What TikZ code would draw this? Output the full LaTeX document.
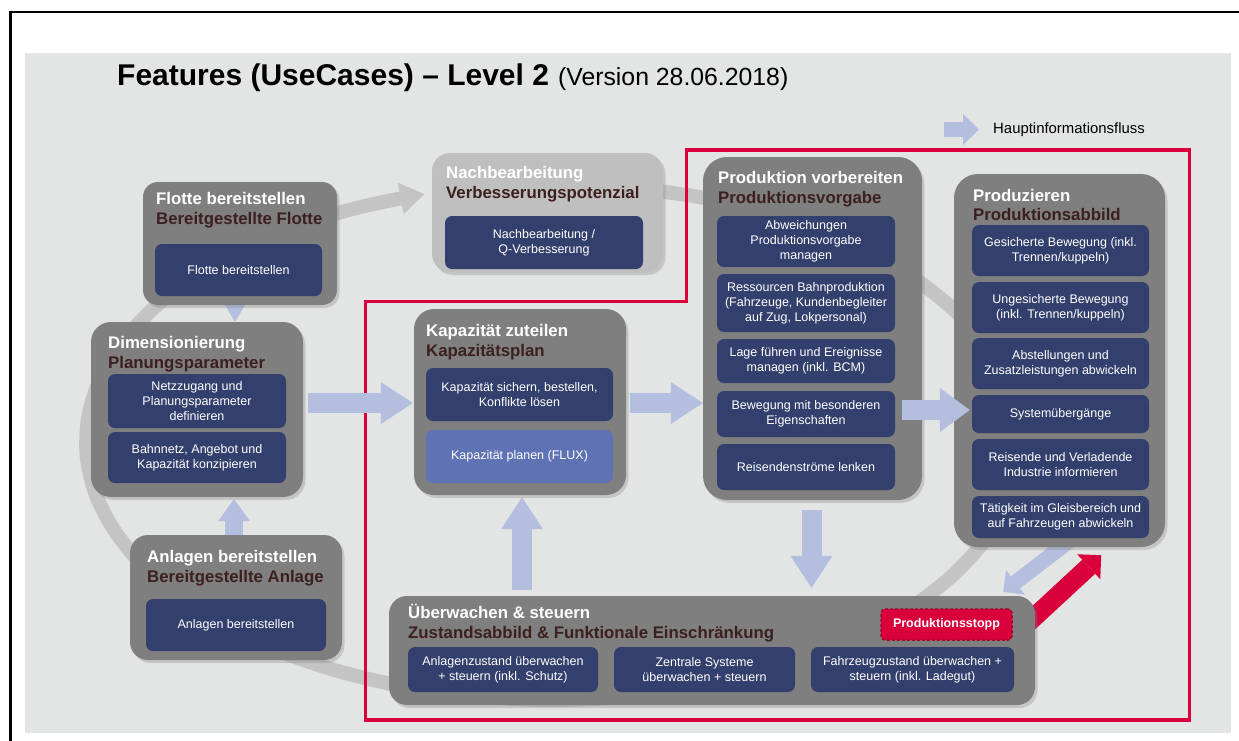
\documentclass[tikz,border=0pt]{standalone}
\usepackage{fontspec}
\setmainfont{Liberation Sans}
\usetikzlibrary{arrows.meta,shadows,calc}

\definecolor{bggray}{HTML}{E3E4E4}
\definecolor{boxgray}{HTML}{7F7F7F}
\definecolor{lightbox}{HTML}{BFBFBF}
\definecolor{navy}{HTML}{333F6C}
\definecolor{fluxblue}{HTML}{5E72B4}
\definecolor{subbrown}{HTML}{3C1F1F}
\definecolor{flowblue}{HTML}{B4BFE0}
\definecolor{dbred}{HTML}{D9003B}
\definecolor{stopborder}{HTML}{A3002C}
\definecolor{ringgray}{HTML}{C4C4C4}

\pgfdeclarelayer{bg}
\pgfdeclarelayer{behind}
\pgfdeclarelayer{front}
\pgfsetlayers{bg,behind,main,front}

\begin{document}
\begin{tikzpicture}[x=1pt,y=-1pt,
  outerbox/.style={fill=boxgray, draw=none, rounded corners=#1, inner sep=0pt,
    drop shadow={shadow xshift=2.5pt, shadow yshift=-3pt, opacity=0.3}},
  outerbox/.default=18pt,
  inbox/.style={fill=navy, rounded corners=7pt, text=white, align=center,
    inner sep=2pt, font=\fontsize{12.5}{15}\selectfont},
  head/.style={anchor=base west, inner sep=0pt, text=white,
    font=\fontsize{16.8}{20}\selectfont\bfseries},
  subhead/.style={head, text=subbrown},
  flow/.style={flowblue, line width=20pt,
    -{Triangle[width=42pt,length=32pt,line width=0pt]}},
]
\useasboundingbox (0,0) rectangle (1239,740);

% ---------- boxes ----------
\node[outerbox=15pt, minimum width=194, minimum height=123] (flotte) at (240,243.5) {};
\node[outerbox=20pt, minimum width=212, minimum height=175] (dim) at (197,409.5) {};
\node[outerbox=18pt, minimum width=212, minimum height=125] (anl) at (236,597.5) {};
\node[outerbox=18pt, fill=lightbox, minimum width=231, minimum height=119] (nach) at (547.5,212.5) {};
\node[outerbox=20pt, minimum width=212, minimum height=186] (kap) at (520,402) {};
\node[outerbox=24pt, minimum width=219, minimum height=343] (prodv) at (812.5,328.5) {};
\node[outerbox=24pt, minimum width=211, minimum height=373] (prodz) at (1059.5,360.5) {};
\node[outerbox=18pt, minimum width=646, minimum height=109] (ueber) at (712,650.5) {};

% ---------- headings ----------
\node[head] (flotteH) at (156,204) {Flotte bereitstellen};
\node[subhead] (flotteS) at (156,224) {Bereitgestellte Flotte};
\node[head] (dimH) at (108,348) {Dimensionierung};
\node[subhead] (dimS) at (108,368) {Planungsparameter};
\node[head] (anlH) at (147,562) {Anlagen bereitstellen};
\node[subhead] (anlS) at (147,582) {Bereitgestellte Anlage};
\node[head] (nachH) at (446,178) {Nachbearbeitung};
\node[subhead] (nachS) at (446,198) {Verbesserungspotenzial};
\node[head] (kapH) at (426,336) {Kapazität zuteilen};
\node[subhead] (kapS) at (426,356) {Kapazitätsplan};
\node[head] (prodvH) at (718,183) {Produktion vorbereiten};
\node[subhead] (prodvS) at (718,203) {Produktionsvorgabe};
\node[head] (prodzH) at (973,201) {Produzieren};
\node[subhead] (prodzS) at (973,220) {Produktionsabbild};
\node[head] (ueberH) at (408,618) {Überwachen \& steuern};
\node[subhead] (ueberS) at (408,638) {Zustandsabbild \& Funktionale Einschränkung};

% ---------- inner feature boxes ----------
\node[inbox, minimum width=167, minimum height=52] (fl1) at (238.5,270) {Flotte bereitstellen};
\node[inbox, minimum width=178, minimum height=54] (d1) at (197,401) {Netzzugang und\\Planungsparameter\\definieren};
\node[inbox, minimum width=178, minimum height=51] (d2) at (197,457.5) {Bahnnetz, Angebot und\\Kapazität konzipieren};
\node[inbox, minimum width=180, minimum height=52] (an1) at (236,625) {Anlagen bereitstellen};
\node[inbox, minimum width=198, minimum height=53] (na1) at (544,242.5) {Nachbearbeitung /\\Q-Verbesserung};
\node[inbox, minimum width=187, minimum height=53] (k1) at (519.5,394.5) {Kapazität sichern, bestellen,\\Konflikte lösen};
\node[inbox, fill=fluxblue, minimum width=187, minimum height=53] (k2) at (519.5,456.5) {Kapazität planen (FLUX)};

\node[inbox, minimum width=178, minimum height=51] (pv1) at (806,241.5) {Abweichungen\\Produktionsvorgabe\\managen};
\node[inbox, minimum width=178, minimum height=58] (pv2) at (806,303) {Ressourcen Bahnproduktion\\(Fahrzeuge, Kundenbegleiter\\auf Zug, Lokpersonal)};
\node[inbox, minimum width=178, minimum height=44] (pv3) at (806,361) {Lage führen und Ereignisse\\managen (inkl. BCM)};
\node[inbox, minimum width=178, minimum height=46] (pv4) at (806,414) {Bewegung mit besonderen\\Eigenschaften};
\node[inbox, minimum width=178, minimum height=46] (pv5) at (806,467) {Reisendenströme lenken};

\node[inbox, minimum width=177, minimum height=51] (pz1) at (1060.5,250.5) {Gesicherte Bewegung (inkl.\\Trennen/kuppeln)};
\node[inbox, minimum width=177, minimum height=51] (pz2) at (1060.5,307.5) {Ungesicherte Bewegung\\(inkl. Trennen/kuppeln)};
\node[inbox, minimum width=177, minimum height=51] (pz3) at (1060.5,363.5) {Abstellungen und\\Zusatzleistungen abwickeln};
\node[inbox, minimum width=177, minimum height=38] (pz4) at (1060.5,414) {Systemübergänge};
\node[inbox, minimum width=177, minimum height=51] (pz5) at (1060.5,464.5) {Reisende und Verladende\\Industrie informieren};
\node[inbox, minimum width=177, minimum height=42] (pz6) at (1060.5,517) {Tätigkeit im Gleisbereich und\\auf Fahrzeugen abwickeln};

\node[inbox, minimum width=190, minimum height=45] (u1) at (503,669.5) {Anlagenzustand überwachen\\+ steuern (inkl. Schutz)};
\node[inbox, minimum width=181, minimum height=45] (u2) at (704.5,669.5) {Zentrale Systeme\\überwachen + steuern};
\node[inbox, minimum width=203, minimum height=45] (u3) at (912.5,669.5) {Fahrzeugzustand überwachen +\\steuern (inkl. Ladegut)};

\node[fill=dbred, draw=stopborder, dash pattern=on 3pt off 2pt, line width=1.5pt,
  rounded corners=4pt, minimum width=131, minimum height=31, inner sep=0pt,
  text=white, font=\fontsize{12.5}{15}\selectfont\bfseries] (stopp) at (946.5,624.5) {Produktionsstopp};

% ---------- legend ----------
\node[anchor=base west, inner sep=0pt, font=\fontsize{14.9}{18}\selectfont] (legtext) at (993,133.5) {Hauptinformationsfluss};
\coordinate (legtail) at (944,129.5);
\draw[flowblue, line width=15pt, -{Triangle[width=31pt,length=16pt,line width=0pt]}]
  (legtail) -- ($(legtext.west |- legtail)+(-14,0)$);

% ---------- title ----------
\node[anchor=base west, inner sep=0pt] (title) at (117,85)
  {{\fontsize{30}{36}\selectfont\bfseries Features (UseCases) – Level 2}\hspace{9pt}{\fontsize{24.8}{30}\selectfont(Version 28.06.2018)}};

% ---------- background, cycle ring, focus frame ----------
\begin{pgfonlayer}{bg}
  \fill[white] (0,0) rectangle (1239,740);
  \fill[bggray] (25,53) rectangle (1231,733);
  \draw[line width=2.7pt] (10.5,745) -- (10.5,12) -- (1245,12);
  \draw[ringgray, line width=14pt, -{Triangle[width=32pt,length=24pt,line width=0pt]}]
    plot[smooth, domain=-80:254, samples=40] ({553+467*cos(\x)},{442+258*sin(\x)});
  \draw[dbred, line width=3.5pt] (686.5,150) -- (1189.5,150) -- (1189.5,720)
    -- (365.5,720) -- (365.5,301.5) -- (686.5,301.5) -- cycle;
\end{pgfonlayer}

% ---------- flow arrows under the boxes ----------
\begin{pgfonlayer}{behind}
  \coordinate (aTop) at ([xshift=-5pt]flotte.center);
  \draw[flowblue, line width=14pt, -{Triangle[width=30pt,length=25pt,line width=0pt]}]
    (aTop) -- (aTop |- dim.north);
  \coordinate (bBase) at ([xshift=-2pt]anl.center);
  \draw[flowblue, line width=18pt, -{Triangle[width=32pt,length=22pt,line width=0pt]}]
    (bBase) -- ($(bBase |- dim.south)+(0,2)$);
  \draw[flowblue, line width=15pt, -{Triangle[width=31pt,length=15.5pt,line width=0pt]}]
    ($(prodz.south)+(20,-14)$) -- ($(ueber.north east)+(-32,-4)$);
  \draw[dbred, line width=19pt, -{Triangle[width=34pt,length=17pt,line width=0pt]}]
    ($(ueber.east)+(-17,-18.5)$) -- ($(prodz.south east)+(-64,8)$);
\end{pgfonlayer}

% ---------- flow arrows between the boxes ----------
\begin{pgfonlayer}{front}
  \draw[flow] ($(dim.east |- kap.center)+(5,1)$) -- ($(kap.west)+(-1,1)$);
  \draw[flow] ($(kap.east)+(4,1)$) -- ($(kap.east -| prodv.west)+(0,1)$);
  \draw[flow, -{Triangle[width=44pt,length=30pt,line width=0pt]}]
    ($(prodv.east |- pz4.west)+(-20,-4)$) -- ($(prodz.west |- pz4.west)+(16,-4)$);
  \draw[flow] ($(ueber.north -| kap.south)+(2,-6)$) -- ($(kap.south)+(2,2)$);
  \draw[flow] ($(prodv.south)+(-1,10)$) -- ($(prodv.south |- ueber.north)+(-1,-8)$);
\end{pgfonlayer}
\end{tikzpicture}
\end{document}
